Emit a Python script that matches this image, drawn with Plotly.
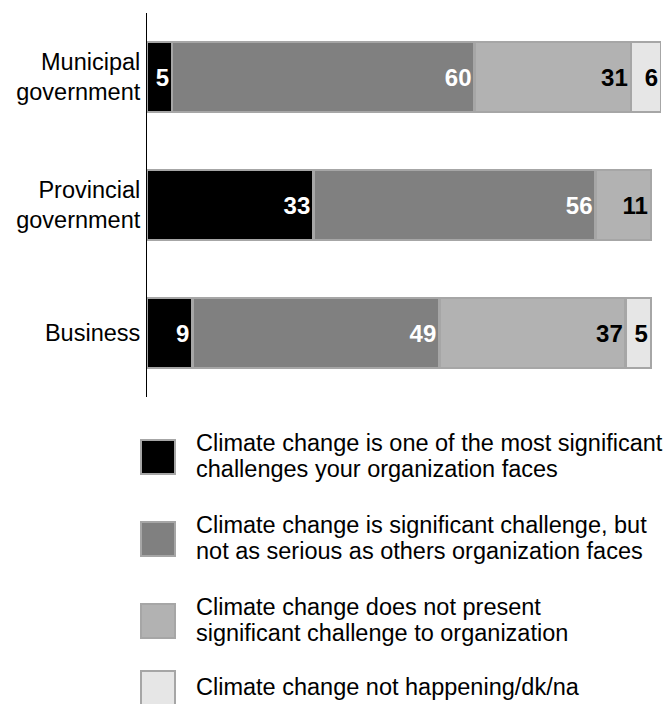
import plotly.graph_objects as go

# Survey responses by organization type (percent)
categories = ["Municipal<br>government", "Provincial<br>government", "Business"]
most_significant = [5, 33, 9]
significant_not_serious = [60, 56, 49]
not_significant = [31, 11, 37]
not_happening = [6, None, 5]

series_labels = [
    ["Climate change is one of the most significant", "challenges your organization faces"],
    ["Climate change is significant challenge, but", "not as serious as others organization faces"],
    ["Climate change does not present", "significant challenge to organization"],
    ["Climate change not happening/dk/na"],
]
series_values = [most_significant, significant_not_serious, not_significant, not_happening]
fill_colors = ["#000000", "#808080", "#b2b2b2", "#e6e6e6"]
label_colors = ["#ffffff", "#ffffff", "#000000", "#000000"]
edge_color = "#a6a6a6"

W, H = 667, 704
L, R, T, B = 147, 6, 13, 307
PW, PH = W - L - R, H - T - B


def px(x):
    return (x - L) / PW


def py(y):
    return (H - B - y) / PH


fig = go.Figure()
for name_lines, vals, fill, tcol in zip(series_labels, series_values, fill_colors, label_colors):
    fig.add_trace(go.Bar(
        y=categories,
        x=vals,
        orientation="h",
        name=" ".join(name_lines),
        marker=dict(color=fill, line=dict(color=edge_color, width=2.5)),
        text=vals,
        texttemplate="%{x}",
        textposition="inside",
        insidetextanchor="end",
        textangle=0,
        constraintext="none",
        textfont=dict(family="Liberation Sans, Arial", size=24, color=tcol, weight="bold"),
        showlegend=False,
        hoverinfo="skip",
    ))

# Legend: swatches with wrapped descriptions underneath the plot
shapes = []
annotations = []
centers = [457, 539, 621, 688]
for cy, lines, fill in zip(centers, series_labels, fill_colors):
    shapes.append(dict(
        type="rect", xref="paper", yref="paper",
        x0=px(141), x1=px(175), y0=py(cy - 17), y1=py(cy + 17),
        fillcolor=fill, line=dict(color=edge_color, width=2),
    ))
    n = len(lines)
    for i, txt in enumerate(lines):
        ly = cy + (i - (n - 1) / 2) * 26
        annotations.append(dict(
            text=txt, xref="paper", yref="paper",
            x=px(194), y=py(ly - 1), xanchor="left", yanchor="middle",
            showarrow=False,
            font=dict(family="Liberation Sans, Arial", size=23.5, color="#000000"),
        ))

fig.update_layout(
    width=W, height=H,
    margin=dict(l=L, r=R, t=T, b=B, pad=0),
    barmode="stack",
    bargap=0.45,
    plot_bgcolor="white",
    paper_bgcolor="white",
    shapes=shapes,
    annotations=annotations,
    xaxis=dict(visible=False, range=[0, 102], fixedrange=True),
    yaxis=dict(
        type="category",
        categoryorder="array",
        categoryarray=categories,
        autorange="reversed",
        showline=True, linecolor="#000000", linewidth=1,
        showgrid=False, zeroline=False,
        ticks="", ticklabelstandoff=1,
        tickfont=dict(family="Liberation Sans, Arial", size=23.5, color="#000000"),
    ),
    showlegend=False,
)

fig.write_html("out.html")
